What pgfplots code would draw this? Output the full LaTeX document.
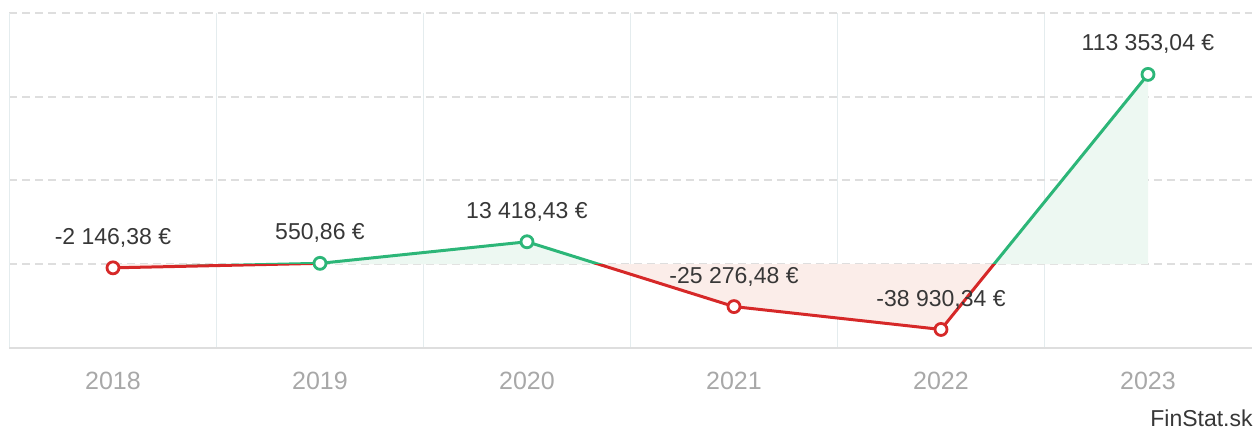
\documentclass[border=0pt]{standalone}
\usepackage{fontspec}
\setmainfont{Liberation Sans}
\usepackage{pgfplots}
\pgfplotsset{compat=1.18}
\definecolor{posgreen}{RGB}{44,182,120}
\definecolor{negred}{RGB}{214,40,40}
\definecolor{fillgreen}{RGB}{237,248,242}
\definecolor{fillred}{RGB}{251,237,233}
\definecolor{gridgray}{RGB}{222,222,222}
\definecolor{vgrid}{RGB}{228,236,238}
\definecolor{ticklab}{RGB}{168,168,168}
\definecolor{labtext}{RGB}{55,55,55}
\begin{document}
\begin{tikzpicture}[x=1pt,y=1pt]
\useasboundingbox (0,0) rectangle (626.5,214);
\begin{axis}[
  at={(4.75pt,40pt)}, anchor=south west,
  scale only axis, width=621pt, height=167.5pt,
  xmin=-0.5, xmax=5.5, ymin=-50000, ymax=150000,
  axis x line*=bottom, axis y line*=left,
  axis line style={draw=none},
  scaled y ticks=false,
  xtick={0,1,2,3,4,5},
  xticklabels={2018,2019,2020,2021,2022,2023},
  minor xtick={0.5,1.5,2.5,3.5,4.5},
  ytick={0,50000,100000,150000},
  yticklabels={},
  major tick length=0pt, minor tick length=0pt,
  ymajorgrids, xminorgrids,
  major grid style={draw=gridgray, line width=1pt, dash pattern=on 4pt off 2.5pt},
  minor grid style={draw=vgrid, line width=0.8pt},
  x tick label style={anchor=center, yshift=-16.5pt, font=\fontsize{12.5}{14}\selectfont, text=ticklab},
  clip mode=individual,
]
% fills
\begin{scope}
\clip (axis cs:-0.5,0) rectangle (axis cs:5.5,150000);
\addplot[fill=fillgreen, draw=none] coordinates {(0,-2146.38) (1,550.86) (2,13418.43) (3,-25276.48) (4,-38930.34) (5,113353.04)} \closedcycle;
\end{scope}
\begin{scope}
\clip (axis cs:-0.5,-50000) rectangle (axis cs:5.5,0);
\addplot[fill=fillred, draw=none] coordinates {(0,-2146.38) (1,550.86) (2,13418.43) (3,-25276.48) (4,-38930.34) (5,113353.04)} \closedcycle;
\end{scope}
% axis frame lines
\draw[vgrid, line width=0.8pt] (axis cs:-0.5,-50000) -- (axis cs:-0.5,150000);
\draw[gridgray, line width=1pt] (axis cs:-0.5,-50000) -- (axis cs:5.5,-50000);
% lines
\begin{scope}
\clip (axis cs:-0.5,0) rectangle (axis cs:5.5,150000);
\addplot[posgreen, line width=1.5pt, mark=none] coordinates {(0,-2146.38) (1,550.86) (2,13418.43) (3,-25276.48) (4,-38930.34) (5,113353.04)};
\end{scope}
\begin{scope}
\clip (axis cs:-0.5,-50000) rectangle (axis cs:5.5,0);
\addplot[negred, line width=1.5pt, mark=none] coordinates {(0,-2146.38) (1,550.86) (2,13418.43) (3,-25276.48) (4,-38930.34) (5,113353.04)};
\end{scope}
% markers
\addplot[only marks, mark=*, mark size=3pt, mark options={draw=negred, fill=white, line width=1.4pt}] coordinates {(0,-2146.38) (3,-25276.48) (4,-38930.34)};
\addplot[only marks, mark=*, mark size=3pt, mark options={draw=posgreen, fill=white, line width=1.4pt}] coordinates {(1,550.86) (2,13418.43) (5,113353.04)};
% labels
\addplot[draw=none, mark=none, point meta=explicit symbolic, nodes near coords,
  every node near coord/.style={anchor=center, yshift=15pt, font=\fontsize{11.5}{13}\selectfont, text=labtext}]
  coordinates {(0,-2146.38) [-2 146,38 €] (1,550.86) [550,86 €] (2,13418.43) [13 418,43 €] (3,-25276.48) [-25 276,48 €] (4,-38930.34) [-38 930,34 €] (5,113353.04) [113 353,04 €]};
\end{axis}
\node[anchor=east, font=\fontsize{11.5}{13}\selectfont, text=labtext, inner sep=0pt] at (626.5,5) {FinStat.sk};
\end{tikzpicture}
\end{document}
